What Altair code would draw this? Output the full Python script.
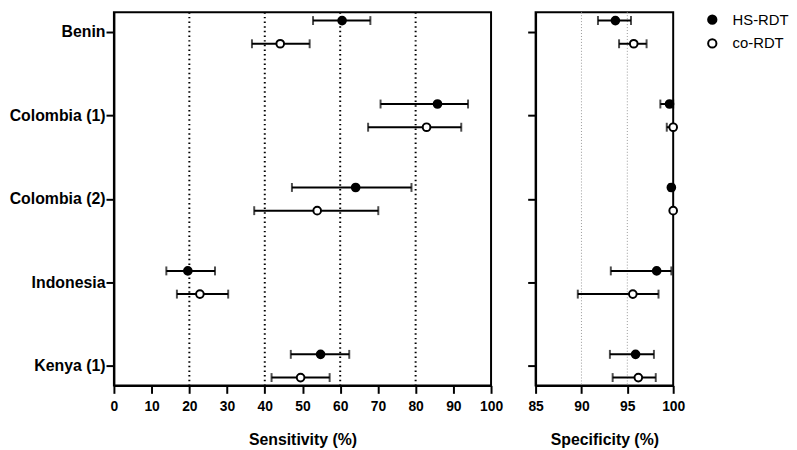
import altair as alt
import pandas as pd

countries = ["Benin", "Colombia (1)", "Colombia (2)", "Indonesia", "Kenya (1)"]
series = ["HS-RDT", "co-RDT"]

sens_hs = [60.5, 85.8, 64.1, 19.6, 54.8]
sens_hs_lo = [52.8, 70.7, 47.2, 13.9, 46.9]
sens_hs_hi = [68.0, 93.9, 78.9, 26.8, 62.4]
sens_co = [44.1, 82.9, 53.9, 22.8, 49.5]
sens_co_lo = [36.6, 67.4, 37.2, 16.7, 41.8]
sens_co_hi = [51.9, 92.1, 70.1, 30.3, 57.2]

spec_hs = [93.7, 99.6, 99.8, 98.2, 95.9]
spec_hs_lo = [91.8, 98.6, 99.6, 93.2, 93.1]
spec_hs_hi = [95.4, 100.0, 100.0, 99.8, 97.9]
spec_co = [95.7, 100.0, 100.0, 95.6, 96.2]
spec_co_lo = [94.1, 99.3, 100.0, 89.6, 93.4]
spec_co_hi = [97.1, 100.0, 100.0, 98.4, 98.1]

sens_ticks = [0, 10, 20, 30, 40, 50, 60, 70, 80, 90, 100]
spec_ticks = [85, 90, 95, 100]
sens_grid = [20, 40, 60, 80]
spec_grid = [90, 95]

FONT = "Liberation Sans"


def build(est_hs, lo_hs, hi_hs, est_co, lo_co, hi_co):
    rows = []
    for i, c in enumerate(countries):
        rows.append(dict(country=c, idx=i, series="HS-RDT", est=est_hs[i], lo=lo_hs[i], hi=hi_hs[i]))
        rows.append(dict(country=c, idx=i, series="co-RDT", est=est_co[i], lo=lo_co[i], hi=hi_co[i]))
    return pd.DataFrame(rows)


sens_df = build(sens_hs, sens_hs_lo, sens_hs_hi, sens_co, sens_co_lo, sens_co_hi)
spec_df = build(spec_hs, spec_hs_lo, spec_hs_hi, spec_co, spec_co_lo, spec_co_hi)

label_expr = "[" + ",".join("'%s'" % c for c in countries) + "][datum.value]"
ydom = [-0.236, len(countries) - 1 + 0.236]

legend_def = alt.Legend(
    title=None,
    labelFont=FONT,
    labelFontSize=15,
    labelColor="black",
    symbolType="circle",
    symbolSize=70,
    symbolStrokeColor="black",
    symbolStrokeWidth=2,
    rowPadding=7,
    offset=19,
    orient="right",
    labelOffset=13,
    padding=0,
)


def panel(df, ticks, grid, grid_style, title, width, show_labels):
    base = alt.Chart(df).transform_calculate(
        pos="datum.idx + (datum.series == 'HS-RDT' ? -0.136 : 0.142)"
    )
    xscale = alt.Scale(domain=[ticks[0], ticks[-1]], nice=False, zero=False)
    yaxis = alt.Axis(
        values=list(range(len(countries))),
        labelExpr=label_expr,
        labels=show_labels,
        title=None,
        grid=False,
        tickSize=8,
        tickWidth=2,
        tickColor="black",
        domainColor="black",
        domainWidth=2,
        labelFont=FONT,
        labelFontSize=16,
        labelFontWeight="bold",
        labelColor="black",
        labelPadding=1,
    )
    y = alt.Y("pos:Q", scale=alt.Scale(domain=ydom, reverse=True, nice=False, zero=False), axis=yaxis)
    xaxis = alt.Axis(
        values=ticks,
        title=title,
        grid=False,
        tickSize=8,
        tickWidth=2,
        tickColor="black",
        domainColor="black",
        domainWidth=2,
        labelFont=FONT,
        labelFontSize=14,
        labelFontWeight="bold",
        labelColor="black",
        labelPadding=6,
        labelOverlap=False,
        labelFlush=False,
        titleFont=FONT,
        titleFontSize=16,
        titleFontWeight="bold",
        titleColor="black",
        titlePadding=19,
    )
    gdf = pd.DataFrame({"g": grid})
    gridlines = alt.Chart(gdf).mark_rule(**grid_style).encode(
        x=alt.X("g:Q", scale=xscale, axis=xaxis)
    )
    bars = base.mark_rule(color="black", strokeWidth=2).encode(
        x=alt.X("lo:Q", scale=xscale, axis=xaxis), x2="hi:Q", y=y
    )
    cap_lo = base.mark_tick(color="black", thickness=2, size=9).encode(
        x=alt.X("lo:Q", scale=xscale, axis=xaxis), y=y
    )
    cap_hi = base.mark_tick(color="black", thickness=2, size=9).encode(
        x=alt.X("hi:Q", scale=xscale, axis=xaxis), y=y
    )
    fill = alt.Fill(
        "series:N",
        scale=alt.Scale(domain=series, range=["black", "white"]),
        legend=legend_def,
    )
    pts = base.mark_point(shape="circle", filled=True, stroke="black", strokeWidth=2, size=60, opacity=1).encode(
        x=alt.X("est:Q", scale=xscale, axis=xaxis), y=y, fill=fill
    )
    return alt.layer(gridlines, bars, cap_lo, cap_hi, pts).properties(width=width, height=377)


left = panel(
    sens_df, sens_ticks, sens_grid,
    dict(color="black", strokeWidth=2, strokeDash=[1.5, 3.2]),
    "Sensitivity (%)", 381, True,
)
right = panel(
    spec_df, spec_ticks, spec_grid,
    dict(color="#999999", strokeWidth=1, strokeDash=[1, 2]),
    "Specificity (%)", 139, False,
)

chart = alt.hconcat(left, right, spacing=22).resolve_scale(
    fill="shared"
).configure_axis(
    labelOverlap=False
).configure_view(
    stroke="black", strokeWidth=2
).properties(padding={"left": 0, "top": 0, "right": 0, "bottom": 0})

chart.save("out.html", embed_options={"renderer": "svg", "actions": False})
